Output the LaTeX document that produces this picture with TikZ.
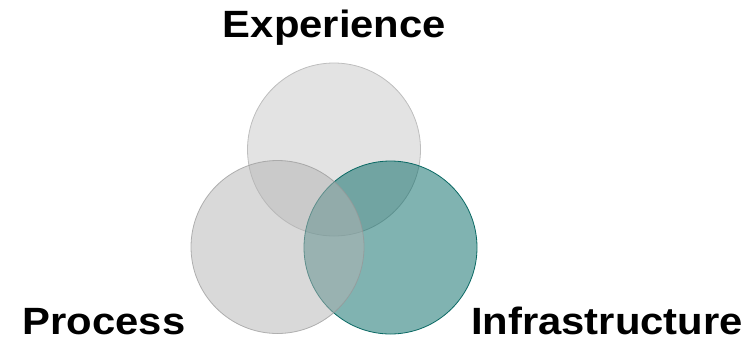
\documentclass[tikz,border=0pt]{standalone}
\usepackage{fontspec}
\setmainfont{Liberation Sans}
\begin{document}
\definecolor{ringtop}{RGB}{227,227,227}
\definecolor{ringtopline}{RGB}{190,190,190}
\definecolor{ringleft}{RGB}{179,179,179}
\definecolor{ringleftline}{RGB}{150,150,150}
\definecolor{ringteal}{RGB}{1,103,99}
\definecolor{ringtealline}{RGB}{10,105,100}
\begin{tikzpicture}[x=1pt,y=1pt,
  ring/.style={circle, inner sep=0pt, minimum size=173pt, line width=0.8pt},
  label/.style={font=\bfseries\fontsize{38}{40}\selectfont, inner sep=0pt, anchor=base, xscale=1.1, transform shape}]
  \useasboundingbox (0,0) rectangle (755,-338);
  % three overlapping translucent discs
  \node[ring, fill=ringtop, draw=ringtopline] (exp) at (334,-149.5) {};
  \node[ring, fill=ringteal, fill opacity=0.5, draw=ringtealline] (inf) at (390.5,-247.5) {};
  \node[ring, fill=ringleft, fill opacity=0.5, draw=ringleftline, draw opacity=0.7] (pro) at (277.5,-247) {};
  % captions
  \node[label] (explabel) at (334.5,-37) {Experience};
  \node[label] (prolabel) at (104,-334) {Process};
  \node[label] (inflabel) at (607,-334) {Infrastructure};
\end{tikzpicture}
\end{document}
